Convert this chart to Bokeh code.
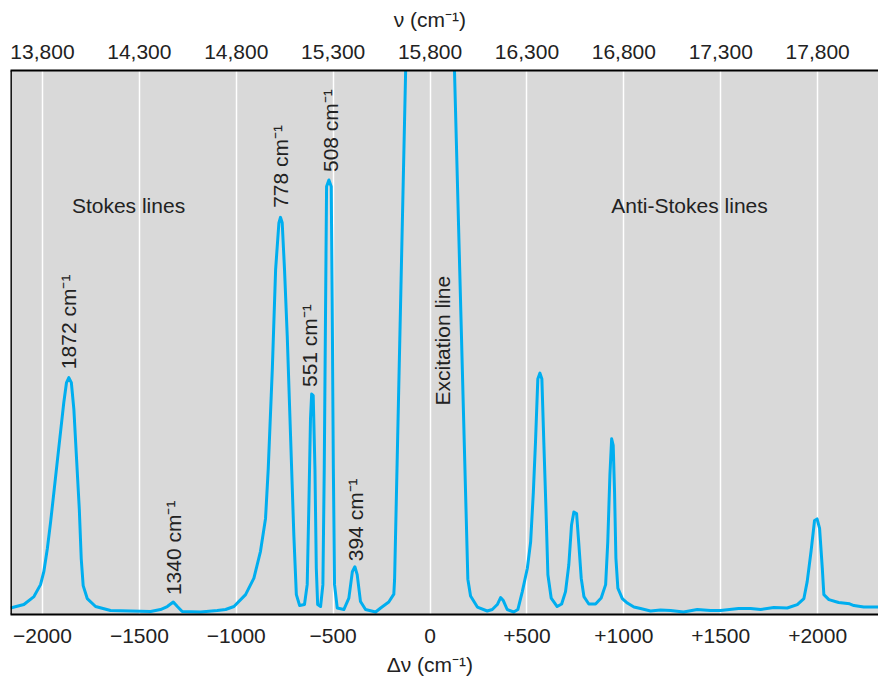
import math
from bokeh.plotting import figure
from bokeh.models import (LinearAxis, FixedTicker, Span, ColumnDataSource,
                          Range1d, Grid)
from bokeh.embed import file_html
from bokeh.resources import INLINE
from bokeh.core.properties import value

# ---- data ----
raman_shift = [
    -2165, -2096, -2044, -2010, -1993, -1975, -1958, -1941, -1924, -1907, -1890, -1876,
    -1864, -1851, -1838, -1824, -1810, -1800, -1790, -1769, -1726, -1649, -1442, -1391,
    -1356, -1325, -1304, -1279, -1184, -1098, -1055, -1012, -952, -909, -875, -849,
    -835, -814, -797, -780, -772, -763, -751, -737, -720, -703, -690, -673,
    -648, -634, -625, -617, -611, -603, -594, -587, -580, -565, -553, -546,
    -539, -534, -522, -510, -505, -499, -493, -479, -445, -419, -401, -388,
    -376, -359, -333, -281, -255, -213, -187, -183, -126, -110, 110, 126,
    195, 209, 244, 295, 321, 347, 364, 378, 398, 432, 453, 476,
    502, 519, 533, 544, 556, 567, 577, 587, 598, 608, 625, 656,
    679, 699, 716, 730, 742, 756, 768, 780, 794, 819, 854, 883,
    906, 917, 928, 937, 945, 952, 959, 969, 992, 1018, 1052, 1086,
    1138, 1189, 1241, 1308, 1379, 1447, 1499, 1592, 1654, 1706, 1774, 1843,
    1895, 1929, 1946, 1966, 1984, 1997, 2010, 2024, 2032, 2058, 2108, 2165,
    2187, 2238, 2314,
]
intensity = [
    6.5, 10, 18, 30, 43, 66, 93, 123, 153, 183, 213, 233,
    238, 233, 206, 156, 106, 56, 29, 16, 8, 4, 3, 5,
    8, 12.5, 8, 3, 2.5, 4, 5, 8, 20, 36.5, 63.5, 96.5,
    146.5, 246.5, 346.5, 393.5, 399, 393.5, 346.5, 280, 180, 80, 20, 9,
    10, 30, 113.5, 196.5, 221.5, 220, 146.5, 46.5, 10, 8, 30, 146.5,
    313.5, 430, 436.5, 430, 313.5, 146.5, 30, 6.5, 5, 16.5, 43, 48,
    40, 13, 5, 2.5, 6.5, 12.5, 20.5, 35.5, 546.5, 700, 700, 546.5,
    35.5, 18.5, 7.5, 3.5, 5, 10, 17, 14, 5, 2.5, 5, 23,
    46.5, 73, 123, 173, 236.5, 242.5, 236.5, 173, 106.5, 40, 16.5, 8,
    10.5, 23, 50, 90, 103, 101.5, 70, 36.5, 18, 10.5, 10.5, 16.5,
    30, 73, 140, 176.5, 170, 123, 56.5, 26.5, 16, 11.5, 7.5, 6,
    3.5, 4.5, 4, 2.5, 5, 4, 4, 6, 6, 5, 7, 6.5,
    10, 16, 33, 63.5, 94.5, 96, 86.5, 46.5, 20, 15, 12, 10.7,
    9, 7.5, 7.5,
]

tick_values = [-2000, -1500, -1000, -500, 0, 500, 1000, 1500, 2000]
bottom_tick_labels = ["\u22122000", "\u22121500", "\u22121000", "\u2212500", "0",
                      "+500", "+1000", "+1500", "+2000"]
top_tick_labels = ["13,800", "14,300", "14,800", "15,300", "15,800",
                   "16,300", "16,800", "17,300", "17,800"]

peak_labels = ["1872 cm\u207b\u00b9", "1340 cm\u207b\u00b9", "778 cm\u207b\u00b9",
               "551 cm\u207b\u00b9", "508 cm\u207b\u00b9", "394 cm\u207b\u00b9",
               "Excitation line"]
region_labels = ["Stokes lines", "Anti-Stokes lines"]
top_title = "\u03bd (cm\u207b\u00b9)"
bottom_title = "\u0394\u03bd (cm\u207b\u00b9)"

# ---- figure ----
FONT = "Liberation Sans"
TXT = "#222222"
FS = "21px"
PAD = "\u00a0" * 5  # shifts the centred axis titles to sit over the zero line

p = figure(width=878, height=678,
           x_range=Range1d(-2165, 2314), y_range=Range1d(0, 546.5),
           output_backend="svg", toolbar_location=None,
           x_axis_location=None, y_axis_location=None,
           min_border_left=10, min_border_right=0,
           min_border_top=70, min_border_bottom=62,
           background_fill_color="#d9d9d9", border_fill_color="white",
           outline_line_color=None)

p.center = [r for r in p.center if not isinstance(r, Grid)]
grid = Grid(dimension=0, ticker=FixedTicker(ticks=tick_values),
            grid_line_color="white", grid_line_width=1.5)
p.add_layout(grid)


def style_axis(ax, overrides, standoff, title, title_standoff):
    ax.ticker = FixedTicker(ticks=tick_values)
    ax.major_label_overrides = dict(zip(tick_values, overrides))
    ax.axis_line_color = "black"
    ax.axis_line_width = 2
    ax.major_tick_line_color = None
    ax.minor_tick_line_color = None
    ax.major_tick_out = 0
    ax.major_tick_in = 0
    ax.major_label_standoff = standoff
    ax.major_label_text_font = FONT
    ax.major_label_text_font_size = FS
    ax.major_label_text_color = TXT
    ax.axis_label = title + PAD
    ax.axis_label_standoff = title_standoff
    ax.axis_label_text_font = FONT
    ax.axis_label_text_font_size = FS
    ax.axis_label_text_font_style = "normal"
    ax.axis_label_text_color = TXT


bottom = LinearAxis()
style_axis(bottom, bottom_tick_labels, 14, bottom_title, 7)
p.add_layout(bottom, "below")

top = LinearAxis()
style_axis(top, top_tick_labels, 12, top_title, 11)
p.add_layout(top, "above")

p.add_layout(Span(location=-2163, dimension="height", line_color="black", line_width=2))

src = ColumnDataSource(dict(shift=raman_shift, intensity=intensity))
p.line(x="shift", y="intensity", source=src, line_color="#00aeef", line_width=3,
       line_join="round")

# rotated peak labels (anchored at their lower end)
lab_src = ColumnDataSource(dict(
    x=[-1868, -1326, -770, -624, -516, -386, 63],
    y=[246.5, 19.5, 408.5, 228.5, 444.5, 53.5, 210],
    text=peak_labels))
p.text(x="x", y="y", text="text", source=lab_src, angle=math.pi / 2,
       text_align="left", text_baseline="middle",
       text_font=value(FONT), text_font_size=FS, text_color=TXT)

reg_src = ColumnDataSource(dict(x=[-1556, 1339], y=[410.5, 410.5], text=region_labels))
p.text(x="x", y="y", text="text", source=reg_src, text_align="center",
       text_baseline="middle", text_font=value(FONT), text_font_size=FS, text_color=TXT)

open("out.html", "w").write(file_html(p, INLINE))
